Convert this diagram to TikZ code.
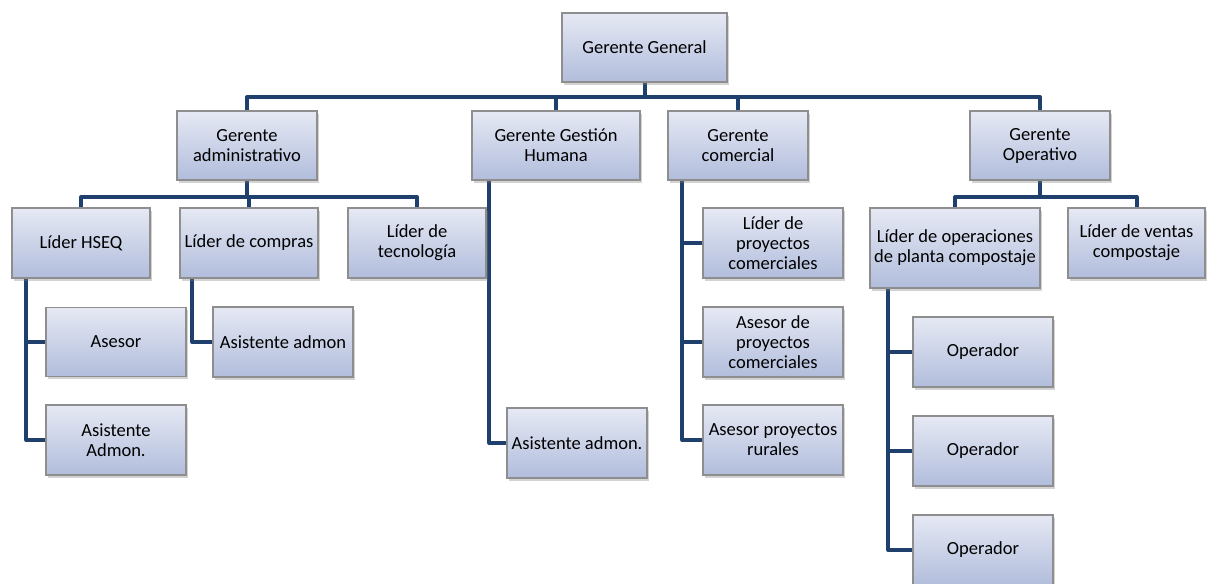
\documentclass[tikz,border=0pt]{standalone}
\usepackage{fontspec}
\setmainfont{Carlito}
\usetikzlibrary{shadows}
\pgfdeclarelayer{background}
\pgfsetlayers{background,main}
\definecolor{conncol}{HTML}{1F3F6C}
\definecolor{boxtop}{HTML}{E6E9F4}
\definecolor{boxbot}{HTML}{B1BDDC}
\definecolor{boxline}{HTML}{8E8E8E}
\tikzset{
  orgbox/.style={rectangle, draw=boxline, line width=1.2pt, top color=boxtop, bottom color=boxbot,
    drop shadow={shadow xshift=2pt, shadow yshift=-2.5pt, opacity=0.35},
    align=center, inner sep=0pt, minimum width=#1, font=\fontsize{18.5}{20}\selectfont},
  orgbox/.default=140pt,
  conn/.style={draw=conncol, line width=4pt, line join=round, line cap=butt}
}
\begin{document}
\begin{tikzpicture}[x=1pt,y=-1pt]
\useasboundingbox (0,0) rectangle (1211,584);
% level 0
\node[orgbox=165pt, minimum height=69pt] (gg) at (644.5,47.5) {Gerente General};
% level 1
\node[orgbox, minimum height=69pt] (ga) at (247,145.5) {Gerente\\administrativo};
\node[orgbox=168pt, minimum height=69pt] (gh) at (556,145.5) {Gerente Gestión\\Humana};
\node[orgbox, minimum height=69pt] (gc) at (738,145.5) {Gerente\\comercial};
\node[orgbox, minimum height=69pt] (go) at (1040,145.5) {Gerente\\Operativo};
% admin children
\node[orgbox=138pt, minimum height=70pt] (hseq) at (81,243) {Líder HSEQ};
\node[orgbox=138pt, minimum height=70pt] (compras) at (249,243) {Líder de compras};
\node[orgbox=138pt, minimum height=70pt] (tec) at (417,243) {Líder de\\tecnología};
\node[orgbox, minimum height=69pt] (asesor) at (116,342) {Asesor};
\node[orgbox, minimum height=70pt] (asadm) at (116,440) {Asistente\\Admon.};
\node[orgbox, minimum height=70pt] (ascomp) at (283,342) {Asistente admon};
% GH child
\node[orgbox, minimum height=70pt] (asgh) at (577,443) {Asistente admon.};
% comercial children
\node[orgbox, minimum height=70pt] (lpc) at (773,243) {Líder de\\proyectos\\comerciales};
\node[orgbox, minimum height=70pt] (apc) at (773,342) {Asesor de\\proyectos\\comerciales};
\node[orgbox, minimum height=70pt] (apr) at (773,440) {Asesor proyectos\\rurales};
% operativo children
\node[orgbox=170pt, minimum height=80pt] (lop) at (955,248) {Líder de operaciones\\de planta compostaje};
\node[orgbox=137pt, minimum height=70pt] (lvc) at (1136.5,243) {Líder de ventas\\compostaje};
\node[orgbox, minimum height=70pt] (op1) at (983,352) {Operador};
\node[orgbox, minimum height=70pt] (op2) at (983,451) {Operador};
\node[orgbox, minimum height=70pt] (op3) at (983,550) {Operador};

\begin{pgfonlayer}{background}
% top bus
\foreach \c in {ga,gh,gc,go}
  \draw[conn] (gg.south) -- (gg.south |- 0,97) -| (\c.north);
% admin bus
\foreach \c in {hseq,compras,tec}
  \draw[conn] (ga.south) -- (ga.south |- 0,197) -| (\c.north);
% operativo bus
\foreach \c in {lop,lvc}
  \draw[conn] (go.south) -- (go.south |- 0,197) -| (\c.north);
% spines
\foreach \c in {asesor,asadm}
  \draw[conn] ([xshift=15pt]hseq.south west) |- (\c.west);
\draw[conn] ([xshift=13pt]compras.south west) |- (ascomp.west);
\draw[conn] ([xshift=18pt]gh.south west) |- (asgh.west);
\foreach \c in {lpc,apc,apr}
  \draw[conn] ([xshift=15pt]gc.south west) |- (\c.west);
\foreach \c in {op1,op2,op3}
  \draw[conn] ([xshift=19pt]lop.south west) |- (\c.west);
\end{pgfonlayer}
\end{tikzpicture}
\end{document}
